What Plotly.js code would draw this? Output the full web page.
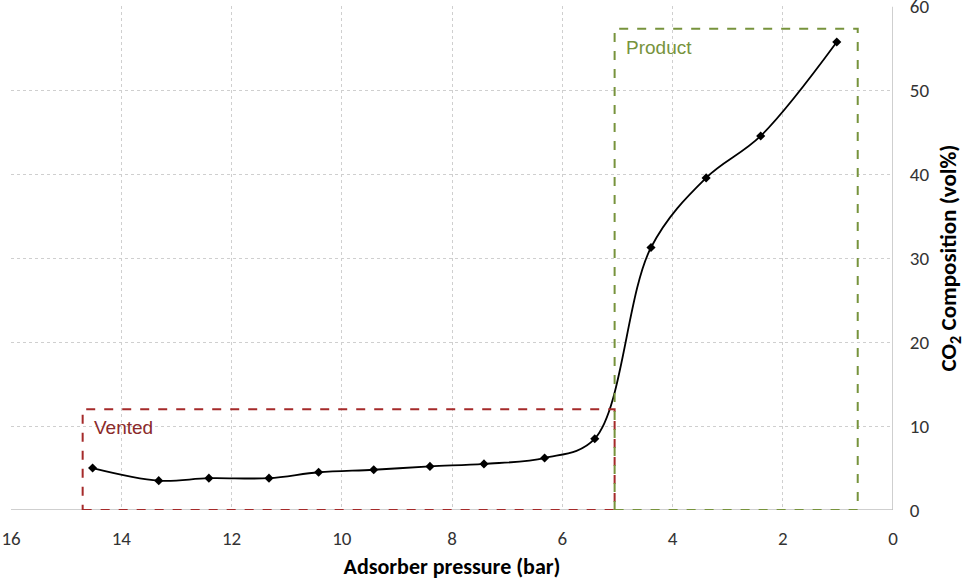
<!DOCTYPE html>
<html>
<head>
<meta charset="utf-8">
<script src="https://cdn.plot.ly/plotly-3.0.1.min.js"></script>
<style>html,body{margin:0;padding:0;background:#fff;}#chart{width:965px;height:580px;}</style>
</head>
<body>
<div id="chart"></div>
<script>
const pressure = [14.52, 13.32, 12.41, 11.32, 10.42, 9.42, 8.40, 7.42, 6.32, 5.41, 4.39, 3.39, 2.40, 1.02];
const co2 = [5.0, 3.5, 3.8, 3.8, 4.5, 4.8, 5.2, 5.5, 6.2, 8.5, 31.3, 39.6, 44.6, 55.8];
const ventedBox = {x0: 14.70, x1: 5.05, y0: 0, y1: 12};
const productBox = {x0: 5.05, x1: 0.64, y0: 0, y1: 57.4};
const xTicks = [16, 14, 12, 10, 8, 6, 4, 2, 0];
const yTicks = [0, 10, 20, 30, 40, 50, 60];

const trace = {
  x: pressure, y: co2, type: 'scatter', mode: 'lines+markers',
  line: {color: '#000', width: 1.8, shape: 'spline', smoothing: 1},
  marker: {symbol: 'diamond', size: 7, color: '#000'},
  hoverinfo: 'x+y', showlegend: false
};

const layout = {
  width: 965, height: 580,
  margin: {l: 11, r: 72, t: 6, b: 70},
  paper_bgcolor: '#fff', plot_bgcolor: '#fff',
  font: {family: 'Carlito, Lato, "Open Sans", sans-serif', color: '#333', size: 19},
  xaxis: {
    range: [16, 0], tickmode: 'array', tickvals: xTicks, ticktext: xTicks.map(String),
    showgrid: true, gridcolor: '#cfcfcf', griddash: 'dot', gridwidth: 1,
    zeroline: false, showline: false, ticks: 'outside', ticklen: 11, tickcolor: 'rgba(0,0,0,0)',
    ticklabeloverflow: 'allow',
    tickfont: {family: 'Carlito, Lato, sans-serif', size: 19, color: '#333'},
    title: {text: 'Adsorber pressure (bar)', font: {size: 22, color: '#000', family: 'Carlito, Lato, sans-serif', weight: 'bold'}, standoff: 12}
  },
  yaxis: {
    range: [0, 60.1], tickmode: 'array', tickvals: yTicks, ticktext: yTicks.map(String), side: 'right',
    showgrid: true, gridcolor: '#cfcfcf', griddash: 'dot', gridwidth: 1,
    zeroline: false, showline: false, ticks: 'outside', ticklen: 12, tickcolor: 'rgba(0,0,0,0)',
    ticklabeloverflow: 'allow',
    tickfont: {family: 'Carlito, Lato, sans-serif', size: 19, color: '#333'},
    title: {text: 'CO<sub>2</sub> Composition (vol%)', font: {size: 23, color: '#000', family: 'Carlito, Lato, sans-serif', weight: 'bold'}, standoff: 12}
  },
  shapes: [
    {type: 'line', xref: 'x', yref: 'y', x0: 16, x1: 0, y0: 0, y1: 0, line: {color: '#bfbfbf', width: 1.5}},
    {type: 'line', xref: 'x', yref: 'y', x0: 0, x1: 0, y0: 0, y1: 60, line: {color: '#bfbfbf', width: 1.5}},
    {type: 'rect', xref: 'x', yref: 'y', x0: ventedBox.x0, x1: ventedBox.x1, y0: ventedBox.y0, y1: ventedBox.y1,
      line: {color: '#A52A2A', width: 2, dash: 'dash'}},
    {type: 'rect', xref: 'x', yref: 'y', x0: productBox.x0, x1: productBox.x1, y0: productBox.y0, y1: productBox.y1,
      line: {color: '#77933C', width: 2, dash: 'dash'}}
  ],
  annotations: [
    {xref: 'x', yref: 'y', x: ventedBox.x0, y: ventedBox.y1, xanchor: 'left', yanchor: 'top', xshift: 9, yshift: -6,
      text: 'Vented', showarrow: false, font: {family: '"Liberation Sans", Arial, sans-serif', size: 19, color: '#8B2A2A'}},
    {xref: 'x', yref: 'y', x: productBox.x0, y: productBox.y1, xanchor: 'left', yanchor: 'top', xshift: 9, yshift: -6,
      text: 'Product', showarrow: false, font: {family: '"Liberation Sans", Arial, sans-serif', size: 19, color: '#77933C'}}
  ]
};

Plotly.newPlot('chart', [trace], layout, {displayModeBar: false, staticPlot: true});
</script>
</body>
</html>
